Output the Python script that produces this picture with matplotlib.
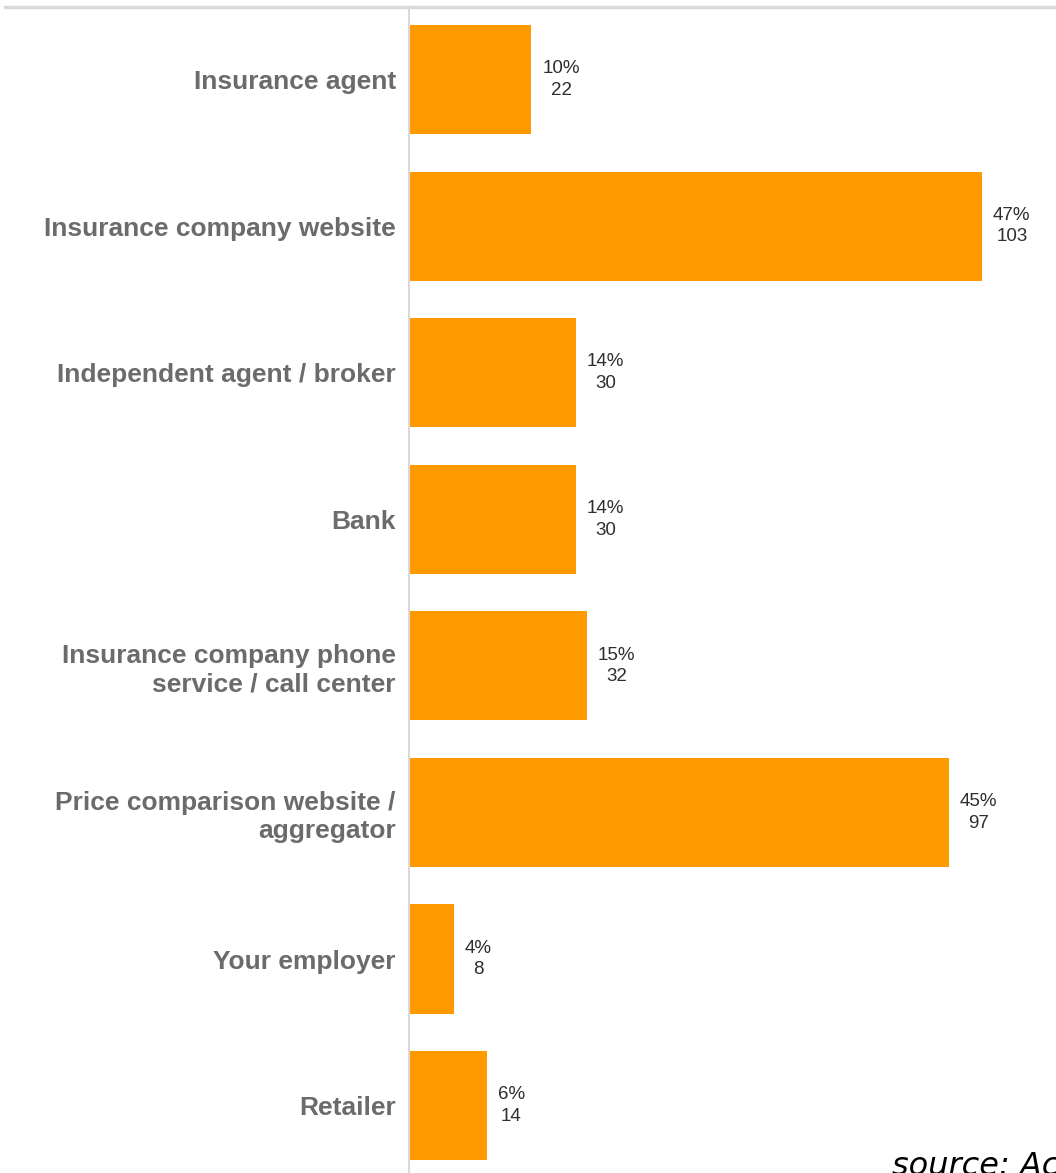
import matplotlib.pyplot as plt

categories = [
    "Insurance agent",
    "Insurance company website",
    "Independent agent / broker",
    "Bank",
    "Insurance company phone\nservice / call center",
    "Price comparison website /\naggregator",
    "Your employer",
    "Retailer",
]
counts = [22, 103, 30, 30, 32, 97, 8, 14]
percents = [10, 47, 14, 14, 15, 45, 4, 6]

plt.rcParams['font.family'] = ['Liberation Sans', 'DejaVu Sans']

W, H = 1056, 1173
fig = plt.figure(figsize=(W / 100, H / 100), dpi=100)
ax = fig.add_axes([409 / W, 0, 1 - 409 / W, 1 - 7 / H])

y = list(range(len(categories)))
ax.barh(y, counts, height=0.744, color='#FF9900', edgecolor='none')

for yi, c, p in zip(y, counts, percents):
    ax.annotate(f"{p}%\n{c}", xy=(c, yi), xytext=(11, 0), textcoords='offset pixels',
                ha='left', va='center', multialignment='center',
                fontsize=13.5, color='#2e2e2e', linespacing=1.35)

ax.set_xlim(0, 116.3)
ax.set_ylim(7.46, -0.495)
ax.set_yticks(y)
ax.set_yticklabels(categories, fontsize=19, fontweight='bold', color='#6b6b6b',
                   linespacing=1.2)
ax.tick_params(axis='y', length=0, pad=9.5)
ax.set_xticks([])

for side in ['top', 'right', 'bottom']:
    ax.spines[side].set_visible(False)
ax.spines['left'].set_color('#d9d9d9')
ax.spines['left'].set_linewidth(1.5)

# thin rule across the top
fig.add_artist(plt.Line2D([5 / W, 1], [1 - 7 / H, 1 - 7 / H], color='#d9d9d9', linewidth=2.5))

fig.text(892 / W, -9 / H, "source: Ac", fontsize=23, style='italic', color='black',
         ha='left', va='bottom', family='DejaVu Sans')

fig.savefig('out.png', dpi=100)
